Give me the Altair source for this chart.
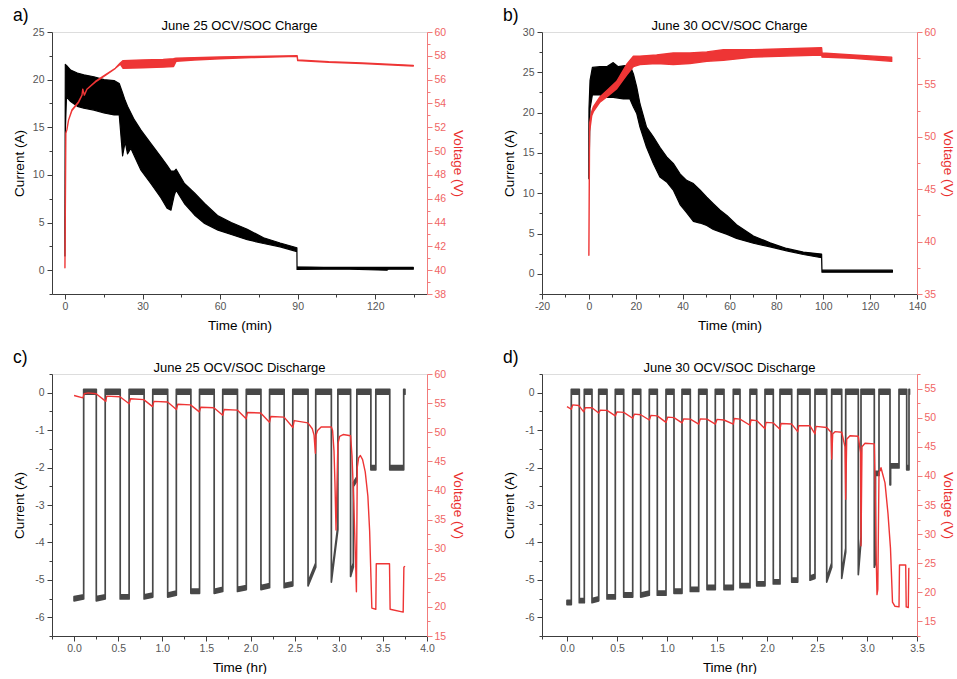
import altair as alt
import pandas as pd

FONT = "Liberation Sans"
RED = "#ee3535"
RED_LABEL = "#f06464"
RED_AXIS = "#f27b7b"
RED_TITLE = "#ea2f2f"
AX_DARK = "#3c3c3c"
LAB_GRAY = "#555555"
CUR_GRAY = "#484848"
MINUS_FIX = "replace(datum.label, '\u2212', '-')"

# ---------------- Panel a: June 25 OCV/SOC Charge ----------------
a_cur_t = [0.0, 0.15, 0.6, 2.2, 4.8, 7.3, 11.2, 15.1, 19.0, 21.0,
           22.3, 23.3, 24.2, 25.5, 26.8, 29.4, 33.2, 37.1, 39.5, 41.0,
           42.3, 43.0, 46.2, 50.1, 54.0, 59.2, 64.3, 70.5, 76.8, 83.2,
           89.7, 89.75, 100, 110, 124.5, 125, 134.7]
a_cur_lo = [1.5, 14.5, 18.2, 17.7, 17.2, 17.0, 16.8, 16.5, 16.3, 16.3,
            12.0, 13.5, 12.2, 12.8, 12.0, 10.5, 9.1, 7.6, 6.5, 6.3,
            7.9, 8.4, 7.0, 5.8, 4.9, 4.2, 3.75, 3.2, 2.8, 2.45,
            1.95, 0.08, 0.1, 0.1, 0.0, 0.1, 0.1]
a_cur_hi = [5.0, 21.6, 21.5, 21.0, 20.7, 20.5, 20.3, 20.0, 19.9, 19.6,
            18.6, 17.8, 17.2, 16.5, 15.8, 14.7, 13.3, 11.9, 11.0, 10.4,
            10.4, 10.6, 9.1, 8.1, 7.0, 5.7, 5.0, 4.3, 3.4, 2.85,
            2.35, 0.35, 0.3, 0.3, 0.3, 0.3, 0.3]
a_v_t = [0.0, 0.35, 0.77, 1.4, 2.7, 5.3, 6.6, 6.9, 7.5, 8.5, 11.8, 15.6, 19.5, 21.4,
         22.5, 30, 38, 42, 43, 50, 60, 72, 89.8, 90.0, 102, 115, 134.7]
a_v_lo = [40.2, 51.5, 51.8, 52.6, 53.4, 54.1, 54.7, 55.2, 54.7, 55.2, 55.8, 56.35, 56.95, 57.3,
          56.95, 57.0, 57.05, 57.1, 57.55, 57.65, 57.75, 57.85, 57.95, 57.6, 57.45, 57.35, 57.15]
a_v_hi = [40.2, 51.5, 51.8, 52.6, 53.45, 54.15, 54.7, 55.2, 54.7, 55.2, 55.85, 56.4, 56.95, 57.4,
          57.6, 57.65, 57.7, 57.75, 57.8, 57.85, 57.9, 57.95, 58.0, 57.65, 57.5, 57.4, 57.2]

# ---------------- Panel b: June 30 OCV/SOC Charge ----------------
b_cur_t = [0.0, 0.05, 0.5, 1.5, 4.7, 7.6, 10.4, 12.5, 14.7, 17.5,
           19.0, 20.4, 21.8, 24.6, 27.5, 30.3, 33.2, 36.0, 38.9, 41.7,
           44.6, 47.4, 50.3, 53.1, 56.0, 59.0, 63.0, 70.2, 77.3, 84.4,
           91.5, 99.3, 99.45, 110, 129.5]
b_cur_lo = [11.8, 12.0, 20.5, 22.2, 22.2, 21.9, 21.9, 21.8, 21.7, 21.7,
            20.7, 19.9, 18.2, 15.7, 13.7, 12.0, 11.4, 10.4, 8.6, 7.6,
            6.5, 6.3, 6.0, 5.5, 5.2, 4.9, 4.4, 3.8, 3.35, 2.85,
            2.4, 2.0, 0.2, 0.2, 0.2]
b_cur_hi = [17.8, 20.5, 24.0, 25.6, 25.7, 25.7, 26.2, 25.7, 25.8, 25.9,
            24.8, 23.2, 21.1, 18.2, 17.0, 15.7, 14.5, 13.7, 12.4, 11.6,
            11.2, 10.4, 9.5, 8.7, 7.9, 7.2, 6.1, 4.7, 3.85, 3.15,
            2.7, 2.45, 0.45, 0.45, 0.45]
b_v_t = [0.0, 0.3, 1.2, 1.9, 4.7, 7.6, 11.9, 16.1, 19.0, 21.8, 28.9, 36.0, 43.1, 50.3,
         57.4, 70.2, 84.4, 99.3, 99.5, 112.7, 129.2]
b_v_lo = [38.7, 50.5, 52.0, 52.4, 53.3, 53.8, 54.6, 55.9, 56.7, 56.9, 57.0, 56.9, 57.0, 57.2,
          57.3, 57.6, 57.7, 57.8, 57.6, 57.5, 57.2]
b_v_hi = [38.7, 51.3, 52.4, 52.85, 53.8, 54.4, 55.3, 56.9, 57.7, 57.7, 57.8, 58.0, 58.0, 58.1,
          58.3, 58.3, 58.4, 58.5, 58.0, 57.8, 57.6]

# ---------------- Panel c: June 25 OCV/SOC Discharge ----------------
c_seg_start = [0.0, 0.252, 0.523, 0.794, 1.061, 1.324, 1.588, 1.852, 2.118, 2.381,
               2.652, 2.916, 3.134, 3.165, 3.364, 3.578]
c_seg_end = [0.109, 0.353, 0.624, 0.892, 1.159, 1.422, 1.685, 1.952, 2.216, 2.479,
             2.739, 2.99, 3.165, 3.205, 3.42, 3.736]
c_seg_lv0 = [-5.5, -5.5, -5.45, -5.45, -5.4, -5.3, -5.3, -5.25, -5.2, -5.15,
             -5.1, -5.0, -4.85, -2.45, -2.0, -2.0]
c_seg_lv1 = [-5.45, -5.45, -5.45, -5.4, -5.35, -5.3, -5.25, -5.2, -5.15, -5.1,
             -4.6, -3.6, -4.6, -2.3, -2.0, -2.0]
c_end_t = 3.75
c_v_t = [0.0, 0.10, 0.115, 0.16, 0.25, 0.36, 0.37, 0.52, 0.625, 0.64,
         0.79, 0.89, 0.905, 1.06, 1.16, 1.175, 1.32, 1.42, 1.435, 1.585,
         1.685, 1.70, 1.85, 1.95, 1.965, 2.115, 2.215, 2.23, 2.38, 2.48,
         2.495, 2.65, 2.70, 2.72, 2.735, 2.742, 2.76, 2.80, 2.916, 2.93,
         2.946, 2.957, 2.969, 2.99, 3.01, 3.05, 3.134, 3.15, 3.17, 3.19,
         3.20, 3.21, 3.225, 3.245, 3.27, 3.30, 3.33, 3.35, 3.365, 3.375,
         3.42, 3.425, 3.575, 3.582, 3.73, 3.738, 3.75]
c_v = [56.3, 55.9, 56.6, 56.75, 56.6, 55.3, 56.2, 56.1, 54.9, 55.75,
       55.6, 54.4, 55.3, 55.2, 53.9, 54.8, 54.7, 53.5, 54.3, 54.2,
       52.9, 53.9, 53.8, 52.3, 53.4, 53.3, 51.7, 52.7, 52.6, 50.8,
       52.0, 51.6, 50.6, 49.5, 46.4, 49.5, 50.3, 50.9, 50.9, 50.3,
       46.8, 41.1, 33.2, 48.0, 49.3, 49.6, 49.4, 46.0, 38.0, 28.0,
       22.6, 44.0, 45.6, 46.0, 45.3, 43.2, 39.0, 33.0, 25.0, 19.8,
       19.6, 27.4, 27.4, 19.6, 19.1, 26.8, 27.0]

# ---------------- Panel d: June 30 OCV/SOC Discharge ----------------
d_seg_start = [0.0, 0.123, 0.25, 0.40, 0.567, 0.737, 0.903, 1.07, 1.233, 1.40,
               1.57, 1.73, 1.897, 2.063, 2.247, 2.43, 2.597, 2.747, 2.913, 3.073,
               3.085, 3.23, 3.236, 3.397]
d_seg_end = [0.043, 0.173, 0.317, 0.483, 0.657, 0.823, 0.99, 1.15, 1.317, 1.483,
             1.663, 1.83, 1.98, 2.13, 2.307, 2.48, 2.647, 2.787, 2.94, 3.085,
             3.12, 3.236, 3.32, 3.42]
d_seg_lv0 = [-5.6, -5.55, -5.55, -5.45, -5.4, -5.4, -5.35, -5.3, -5.25, -5.2,
             -5.2, -5.15, -5.1, -5.05, -5.0, -4.95, -5.0, -4.9, -4.8, -4.6,
             -2.15, -2.4, -1.95, -2.0]
d_seg_lv1 = [-5.6, -5.55, -5.5, -5.45, -5.4, -5.35, -5.35, -5.3, -5.25, -5.2,
             -5.2, -5.15, -5.1, -5.05, -5.0, -4.9, -4.6, -4.2, -3.9, -4.5,
             -2.15, -2.4, -1.95, -2.0]
d_end_t = 3.425
d_v_t = [0.0, 0.043, 0.057, 0.117, 0.167, 0.183, 0.25, 0.317, 0.333, 0.40,
         0.483, 0.50, 0.567, 0.657, 0.673, 0.737, 0.823, 0.84, 0.903, 0.99,
         1.007, 1.07, 1.15, 1.167, 1.233, 1.317, 1.333, 1.40, 1.483, 1.50,
         1.57, 1.663, 1.673, 1.73, 1.83, 1.84, 1.897, 1.98, 1.99, 2.063,
         2.13, 2.14, 2.247, 2.307, 2.317, 2.43, 2.48, 2.49, 2.597, 2.64,
         2.647, 2.657, 2.68, 2.747, 2.78, 2.787, 2.797, 2.83, 2.913, 2.935,
         2.94, 2.95, 2.98, 3.073, 3.08, 3.09, 3.10, 3.108, 3.12, 3.14,
         3.18, 3.21, 3.235, 3.255, 3.28, 3.32, 3.325, 3.387, 3.392, 3.413,
         3.418, 3.425]
d_v = [51.9, 51.45, 52.2, 52.1, 51.0, 51.7, 51.7, 50.8, 51.3, 51.25,
       50.3, 51.0, 50.9, 49.9, 50.6, 50.5, 49.6, 50.4, 50.3, 49.2,
       50.1, 50.0, 49.1, 49.8, 49.75, 48.9, 49.8, 49.75, 48.9, 49.7,
       49.6, 48.9, 49.85, 49.75, 48.7, 49.6, 49.5, 48.1, 49.2, 49.1,
       48.0, 49.0, 48.9, 47.6, 48.6, 48.6, 47.2, 48.5, 48.3, 47.5,
       42.9, 47.2, 47.6, 47.5, 45.0, 36.0, 46.3, 46.9, 46.8, 44.0,
       28.0, 45.0, 45.6, 45.5, 40.0, 28.0, 19.6, 20.5, 40.5, 41.4,
       38.8, 33.5, 27.5, 18.3, 17.6, 17.5, 24.7, 24.7, 17.5, 17.4,
       24.1, 24.1]

# noise band (rest plateau and discharge plateau fuzz)
rest_fuzz = (-0.04, 0.09)
low_fuzz = (-0.06, 0.05)


def band_df(t, lo, hi):
    return pd.DataFrame({"t": t, "lo": lo, "hi": hi})


def square_df(starts, ends, lv0, lv1, t_end):
    t, lo, hi = [], [], []
    prev = None
    for s, e, a, b in zip(starts, ends, lv0, lv1):
        if prev is not None and s > prev:
            t += [prev, s]
            lo += [rest_fuzz[0]] * 2
            hi += [rest_fuzz[1]] * 2
        t += [s, e]
        lo += [a + low_fuzz[0], b + low_fuzz[0]]
        hi += [a + low_fuzz[1], b + low_fuzz[1]]
        prev = e
    t += [prev, t_end]
    lo += [rest_fuzz[0]] * 2
    hi += [rest_fuzz[1]] * 2
    return pd.DataFrame({"t": t, "lo": lo, "hi": hi})


def minor_axis(orient, vals, color):
    return alt.Axis(orient=orient, values=vals, labels=False, domain=False, grid=False,
                    title=None, tickSize=3, tickColor=color, tickWidth=1)


W, H = 375, 262


def panel(label, title, cur_df, cur_color, cur_width, v_df, v_is_band,
          xdom, xvals, xminor, xtitle, xfmt,
          cdom, cvals, cminor, vdom, vvals, vminor):
    xs = alt.Scale(domain=xdom, nice=False, zero=False)
    cs = alt.Scale(domain=cdom, nice=False, zero=False)
    vs = alt.Scale(domain=vdom, nice=False, zero=False)

    xaxis = alt.Axis(orient="bottom", values=xvals, title=xtitle, format=xfmt, grid=False,
                     titleFontSize=13.5, titleFontWeight="normal", titleColor="black", titleFont=FONT,
                     titlePadding=6, labelFontSize=10.5, labelColor=LAB_GRAY, labelFont=FONT,
                     labelPadding=2, tickSize=5, tickColor=AX_DARK, domainColor=AX_DARK,
                     minExtent=18, maxExtent=18, labelExpr=MINUS_FIX, labelFlush=False,
                     labelOverlap=False)
    laxis = alt.Axis(orient="left", values=cvals, title="Current (A)", grid=False,
                     titleFontSize=13.5, titleFontWeight="normal", titleColor="black", titleFont=FONT,
                     titlePadding=6, labelFontSize=10.5, labelColor=LAB_GRAY, labelFont=FONT,
                     labelPadding=3, tickSize=5, tickColor=AX_DARK, domainColor=AX_DARK,
                     minExtent=20, maxExtent=20, labelExpr=MINUS_FIX, labelFlush=False,
                     labelOverlap=False)
    raxis = alt.Axis(orient="right", values=vvals, title="Voltage (V)", grid=False,
                     titleFontSize=13.5, titleFontWeight="normal", titleColor=RED_TITLE, titleFont=FONT,
                     titlePadding=3, labelFontSize=10.5, labelColor=RED_LABEL, labelFont=FONT,
                     labelPadding=2, tickSize=5, tickColor=RED_AXIS, domainColor=RED_AXIS,
                     minExtent=20, maxExtent=20, labelFlush=False, labelOverlap=False)

    cur = alt.Chart(cur_df).mark_area(color=cur_color, stroke=cur_color, strokeWidth=cur_width,
                                      strokeJoin="round", opacity=1).encode(
        x=alt.X("t:Q", scale=xs, axis=xaxis),
        y=alt.Y("lo:Q", scale=cs, axis=laxis),
        y2="hi:Q",
    )
    if v_is_band:
        volt = alt.Chart(v_df).mark_area(color=RED, stroke=RED, strokeWidth=1.4,
                                         strokeJoin="round", opacity=1).encode(
            x=alt.X("t:Q", scale=xs, axis=None),
            y=alt.Y("lo:Q", scale=vs, axis=raxis),
            y2="hi:Q",
        )
    else:
        volt = alt.Chart(v_df).mark_line(color=RED, strokeWidth=1.4, strokeJoin="round").encode(
            x=alt.X("t:Q", scale=xs, axis=None),
            y=alt.Y("v:Q", scale=vs, axis=raxis),
        )
    anchor_df = pd.DataFrame({"t": [xdom[0]], "c": [cdom[0]], "v": [vdom[0]]})
    minor_l = alt.Chart(anchor_df).mark_point(opacity=0).encode(
        x=alt.X("t:Q", scale=xs, axis=minor_axis("bottom", xminor, AX_DARK)),
        y=alt.Y("c:Q", scale=cs, axis=minor_axis("left", cminor, AX_DARK)),
    )
    minor_r = alt.Chart(anchor_df).mark_point(opacity=0).encode(
        x=alt.X("t:Q", scale=xs, axis=None),
        y=alt.Y("v:Q", scale=vs, axis=minor_axis("right", vminor, RED_AXIS)),
    )
    lab = alt.Chart(pd.DataFrame({"lab": [label]})).mark_text(
        align="left", baseline="alphabetic", fontSize=17.5, font=FONT, color="black"
    ).encode(text="lab:N", x=alt.value(-39), y=alt.value(-11))
    ttl = alt.Chart(pd.DataFrame({"ttl": [title]})).mark_text(
        align="center", baseline="alphabetic", fontSize=13, font=FONT, color="black"
    ).encode(text="ttl:N", x=alt.value(W / 2), y=alt.value(-2))

    return alt.layer(cur, volt, minor_l, minor_r, lab, ttl).resolve_scale(
        y="independent"
    ).resolve_axis(x="independent", y="independent").properties(width=W, height=H)


pa = panel("a)", "June 25 OCV/SOC Charge", band_df(a_cur_t, a_cur_lo, a_cur_hi), "black", 1.2,
           band_df(a_v_t, a_v_lo, a_v_hi), True,
           [-5, 140], [0, 30, 60, 90, 120], [15, 45, 75, 105, 135], "Time (min)", "d",
           [-2.5, 25], [0, 5, 10, 15, 20, 25], [-2.5, 2.5, 7.5, 12.5, 17.5, 22.5],
           [38, 60], list(range(38, 61, 2)), list(range(39, 60, 2)))

pb = panel("b)", "June 30 OCV/SOC Charge", band_df(b_cur_t, b_cur_lo, b_cur_hi), "black", 1.2,
           band_df(b_v_t, b_v_lo, b_v_hi), True,
           [-20, 140], list(range(-20, 141, 20)), list(range(-10, 140, 20)), "Time (min)", "d",
           [-2.5, 30], [0, 5, 10, 15, 20, 25, 30], [-2.5, 2.5, 7.5, 12.5, 17.5, 22.5, 27.5],
           [35, 60], [35, 40, 45, 50, 55, 60], [37.5, 42.5, 47.5, 52.5, 57.5])

pc = panel("c)", "June 25 OCV/SOC Discharge",
           square_df(c_seg_start, c_seg_end, c_seg_lv0, c_seg_lv1, c_end_t), CUR_GRAY, 1.7,
           pd.DataFrame({"t": c_v_t, "v": c_v}), False,
           [-0.25, 4.0], [0, 0.5, 1, 1.5, 2, 2.5, 3, 3.5, 4], [-0.25, 0.25, 0.75, 1.25, 1.75, 2.25, 2.75, 3.25, 3.75],
           "Time (hr)", ".1f",
           [-6.5, 0.5], [-6, -5, -4, -3, -2, -1, 0], [-6.5, -5.5, -4.5, -3.5, -2.5, -1.5, -0.5, 0.5],
           [15, 60], list(range(15, 61, 5)), [17.5, 22.5, 27.5, 32.5, 37.5, 42.5, 47.5, 52.5, 57.5])

pd_ = panel("d)", "June 30 OCV/SOC Discharge",
            square_df(d_seg_start, d_seg_end, d_seg_lv0, d_seg_lv1, d_end_t), CUR_GRAY, 1.7,
            pd.DataFrame({"t": d_v_t, "v": d_v}), False,
            [-0.25, 3.5], [0, 0.5, 1, 1.5, 2, 2.5, 3, 3.5], [-0.25, 0.25, 0.75, 1.25, 1.75, 2.25, 2.75, 3.25],
            "Time (hr)", ".1f",
            [-6.5, 0.5], [-6, -5, -4, -3, -2, -1, 0], [-6.5, -5.5, -4.5, -3.5, -2.5, -1.5, -0.5, 0.5],
            [12.5, 57.5], list(range(15, 56, 5)), [12.5, 17.5, 22.5, 27.5, 32.5, 37.5, 42.5, 47.5, 52.5, 57.5])

chart = alt.concat(
    pa, pb, pc, pd_, columns=2, spacing={"row": 80, "column": 115}, bounds="flush",
    padding={"left": 11, "top": 6, "right": 0, "bottom": 0},
).configure_view(stroke=None).configure(font=FONT)

chart.save("out.html", embed_options={"renderer": "svg", "actions": False})
